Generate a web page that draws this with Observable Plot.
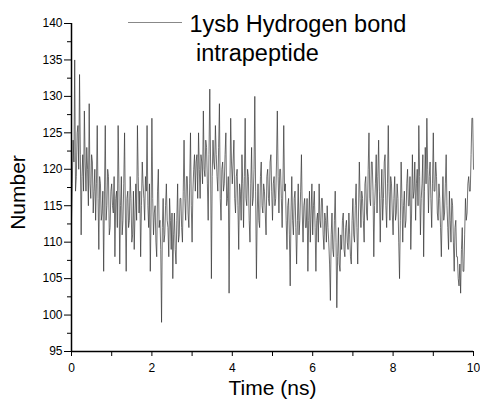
<!DOCTYPE html>
<html><head><meta charset="utf-8">
<script src="https://cdn.jsdelivr.net/npm/d3@7"></script>
<script src="https://cdn.jsdelivr.net/npm/@observablehq/plot@0.6"></script>
<style>
body{margin:0;background:#fff;}
#wrap{width:480px;height:402px;}
</style></head><body><div id="wrap"></div>
<script>
const seriesName = ["1ysb Hydrogen bond", " intrapeptide"];
const xTitle = ["Time (ns)"];
const yTitle = ["Number"];
const timeStep = 0.02; // ns between samples
const hbonds = [
113,118,124,121,135,117,119,125,126,120,133,122,111,119,122,117,128,121,117,123,
120,115,129,118,116,122,121,114,117,120,113,118,126,116,109,119,118,113,114,117,
106,117,126,113,115,120,119,111,112,117,118,115,114,119,108,116,117,112,126,118,
107,115,119,111,113,118,125,114,106,116,117,112,113,119,116,110,111,117,109,114,
118,113,126,119,114,117,108,115,121,118,116,113,119,117,126,115,112,118,106,114,
127,116,111,114,115,110,108,117,120,112,113,109,99,112,116,110,111,115,118,113,
112,108,116,113,109,114,105,111,114,109,107,113,118,110,111,116,116,112,110,117,
124,116,113,119,119,114,112,118,125,115,110,117,120,122,117,121,122,116,125,120,
116,122,121,118,128,120,119,124,123,118,113,122,131,121,105,119,124,121,120,126,
122,119,117,123,129,116,113,120,121,117,118,122,125,115,116,119,103,117,127,121,
118,121,124,116,114,119,120,115,109,118,117,113,122,118,112,119,127,116,115,120,
119,113,110,118,123,115,116,120,130,117,105,114,118,113,112,119,121,115,114,118,
117,114,111,119,120,116,115,121,122,117,113,118,119,115,116,121,128,119,114,120,
120,116,112,118,126,117,118,113,109,115,116,111,104,114,119,113,111,116,117,112,
107,113,118,111,113,117,122,114,110,115,116,112,112,116,106,113,117,110,114,118,
111,115,117,112,106,113,114,110,118,113,112,116,116,111,109,114,113,110,115,112,
110,107,102,111,114,109,108,113,117,110,101,108,112,107,106,111,109,113,114,109,
108,112,113,110,109,114,111,108,107,113,116,111,110,115,118,112,107,114,121,116,
112,117,116,113,110,118,119,114,113,120,125,116,115,121,121,117,108,115,118,122,
114,119,124,117,110,116,120,113,116,121,122,115,112,118,126,117,113,119,118,114,
111,116,119,113,114,118,116,110,105,113,121,116,110,115,117,112,113,118,120,115,
115,119,109,114,122,116,117,121,113,118,120,115,126,119,111,116,118,122,108,117,
123,118,127,120,114,119,121,116,112,118,125,117,117,121,119,114,113,118,116,112,
108,114,119,113,114,118,122,115,112,109,117,113,110,116,115,110,106,112,113,108,
108,105,104,107,103,109,112,106,106,111,116,113,114,118,119,117,117,122,127,127,
120];
const xMajor = [0,2,4,6,8,10];
const xMinor = [1,3,5,7,9];
const yMajor = [95,100,105,110,115,120,125,130,135,140];
const yMinor = [97.5,102.5,107.5,112.5,117.5,122.5,127.5,132.5,137.5];

const data = hbonds.map((n, i) => ({t: i * timeStep, n}));

const chart = Plot.plot({
  width: 480, height: 402,
  marginLeft: 71, marginRight: 7, marginTop: 23, marginBottom: 51,
  style: {fontFamily: '"Liberation Sans", Arial, sans-serif', fontSize: "12px", color: "#000", background: "#fff"},
  x: {domain: [0, 10]},
  y: {domain: [95, 140]},
  marks: [
    Plot.lineY(data, {x: "t", y: "n", stroke: "#333", strokeWidth: 0.7}),
    Plot.axisY(yMajor, {tickSize: 7, tickPadding: 2, label: null, stroke: "#000"}),
    Plot.axisY(yMinor, {tickSize: 4, tickFormat: () => "", label: null, stroke: "#000"}),
    Plot.axisX(xMajor, {tickSize: 5, tickPadding: 7, label: null, stroke: "#000"}),
    Plot.axisX(xMinor, {tickSize: 5, tickFormat: () => "", label: null, stroke: "#000"}),
    Plot.ruleX([0], {stroke: "#000", strokeWidth: 1.5}),
    Plot.ruleY([95], {stroke: "#000", strokeWidth: 1.5}),
    Plot.text(xTitle, {text: d => d, frameAnchor: "bottom", dy: 36.5, lineAnchor: "middle", fontSize: 21, fill: "#000"}),
    Plot.text(yTitle, {text: d => d, frameAnchor: "left", rotate: -90, dx: -53, dy: 5, lineAnchor: "middle", textAnchor: "middle", fontSize: 21, fill: "#000"}),
    Plot.text([seriesName[0]], {text: d => d, frameAnchor: "top-left", textAnchor: "start", lineAnchor: "middle", dx: 118, dy: 0.5, fontSize: 23.5, fill: "#000"}),
    Plot.text([seriesName[1]], {text: d => d, frameAnchor: "top-left", textAnchor: "start", lineAnchor: "middle", dx: 118, dy: 29.8, fontSize: 23.5, fill: "#000"})
  ]
});
document.getElementById("wrap").appendChild(chart);
// legend swatch line
d3.select(chart).append("line")
  .attr("x1", 128).attr("x2", 182).attr("y1", 22.5).attr("y2", 22.5)
  .attr("stroke", "#888").attr("stroke-width", 1);
</script></body></html>
